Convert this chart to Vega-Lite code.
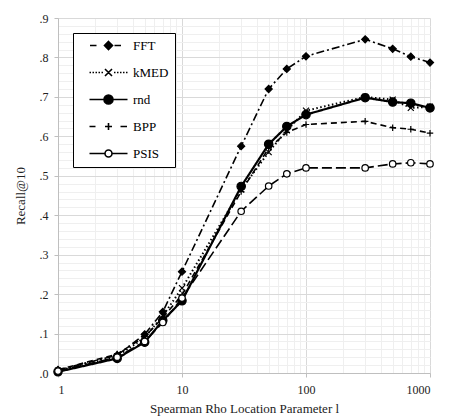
{
  "$schema": "https://vega.github.io/schema/vega-lite/v6.json",
  "autosize": {"type": "none"},
  "width": 372,
  "height": 355,
  "padding": {"left": 58, "top": 18, "right": 25, "bottom": 47},
  "background": "white",
  "config": {
    "view": {"stroke": null},
    "font": "Liberation Serif",
    "axis": {"labelFont": "Liberation Serif", "titleFont": "Liberation Serif", "labelColor": "#222", "titleColor": "#222", "labelFontSize": 12, "titleFontSize": 13, "titleFontWeight": "normal"},
    "legend": {"labelFont": "Liberation Serif"}
  },
  "data": {"values": [
    {"series": "FFT", "x": 1, "y": 0.008}, {"series": "FFT", "x": 3, "y": 0.045}, {"series": "FFT", "x": 5, "y": 0.098}, {"series": "FFT", "x": 7, "y": 0.155}, {"series": "FFT", "x": 10, "y": 0.257}, {"series": "FFT", "x": 30, "y": 0.575}, {"series": "FFT", "x": 50, "y": 0.72}, {"series": "FFT", "x": 70, "y": 0.771}, {"series": "FFT", "x": 100, "y": 0.803}, {"series": "FFT", "x": 300, "y": 0.846}, {"series": "FFT", "x": 500, "y": 0.822}, {"series": "FFT", "x": 700, "y": 0.802}, {"series": "FFT", "x": 1000, "y": 0.787},
    {"series": "kMED", "x": 1, "y": 0.006}, {"series": "kMED", "x": 3, "y": 0.042}, {"series": "kMED", "x": 5, "y": 0.09}, {"series": "kMED", "x": 7, "y": 0.145}, {"series": "kMED", "x": 10, "y": 0.215}, {"series": "kMED", "x": 30, "y": 0.465}, {"series": "kMED", "x": 50, "y": 0.56}, {"series": "kMED", "x": 70, "y": 0.615}, {"series": "kMED", "x": 100, "y": 0.665}, {"series": "kMED", "x": 300, "y": 0.70}, {"series": "kMED", "x": 500, "y": 0.693}, {"series": "kMED", "x": 700, "y": 0.672}, {"series": "kMED", "x": 1000, "y": 0.675},
    {"series": "rnd", "x": 1, "y": 0.003}, {"series": "rnd", "x": 3, "y": 0.037}, {"series": "rnd", "x": 5, "y": 0.078}, {"series": "rnd", "x": 7, "y": 0.133}, {"series": "rnd", "x": 10, "y": 0.183}, {"series": "rnd", "x": 30, "y": 0.473}, {"series": "rnd", "x": 50, "y": 0.58}, {"series": "rnd", "x": 70, "y": 0.625}, {"series": "rnd", "x": 100, "y": 0.655}, {"series": "rnd", "x": 300, "y": 0.698}, {"series": "rnd", "x": 500, "y": 0.687}, {"series": "rnd", "x": 700, "y": 0.684}, {"series": "rnd", "x": 1000, "y": 0.672},
    {"series": "BPP", "x": 1, "y": 0.008}, {"series": "BPP", "x": 3, "y": 0.048}, {"series": "BPP", "x": 5, "y": 0.092}, {"series": "BPP", "x": 7, "y": 0.14}, {"series": "BPP", "x": 10, "y": 0.198}, {"series": "BPP", "x": 30, "y": 0.46}, {"series": "BPP", "x": 50, "y": 0.57}, {"series": "BPP", "x": 70, "y": 0.61}, {"series": "BPP", "x": 100, "y": 0.63}, {"series": "BPP", "x": 300, "y": 0.638}, {"series": "BPP", "x": 500, "y": 0.622}, {"series": "BPP", "x": 700, "y": 0.618}, {"series": "BPP", "x": 1000, "y": 0.608},
    {"series": "PSIS", "x": 1, "y": 0.005}, {"series": "PSIS", "x": 3, "y": 0.04}, {"series": "PSIS", "x": 5, "y": 0.08}, {"series": "PSIS", "x": 7, "y": 0.128}, {"series": "PSIS", "x": 10, "y": 0.19}, {"series": "PSIS", "x": 30, "y": 0.41}, {"series": "PSIS", "x": 50, "y": 0.474}, {"series": "PSIS", "x": 70, "y": 0.505}, {"series": "PSIS", "x": 100, "y": 0.52}, {"series": "PSIS", "x": 300, "y": 0.52}, {"series": "PSIS", "x": 500, "y": 0.53}, {"series": "PSIS", "x": 700, "y": 0.533}, {"series": "PSIS", "x": 1000, "y": 0.53}
  ]},
  "resolve": {"axis": {"x": "independent", "y": "independent"}},
  "layer": [
    {
      "mark": {"type": "line", "color": "black"},
      "encoding": {
        "x": {"field": "x", "type": "quantitative", "scale": {"type": "log", "domain": [1, 1000]},
          "axis": {"orient": "bottom", "values": [2,3,4,5,6,7,8,9,20,30,40,50,60,70,80,90,200,300,400,500,600,700,800,900], "labels": false, "ticks": false, "domain": false, "grid": true, "gridColor": "#efefef", "gridWidth": 1, "title": null}},
        "y": {"field": "y", "type": "quantitative", "scale": {"domain": [0, 0.9]},
          "axis": {"orient": "left", "values": [0.02,0.04,0.06,0.08,0.12,0.14,0.16,0.18,0.22,0.24,0.26,0.28,0.32,0.34,0.36,0.38,0.42,0.44,0.46,0.48,0.52,0.54,0.56,0.58,0.62,0.64,0.66,0.68,0.72,0.74,0.76,0.78,0.82,0.84,0.86,0.88], "labels": false, "ticks": false, "domain": false, "grid": true, "gridColor": "#efefef", "gridWidth": 1, "title": null}},
        "detail": {"field": "series", "type": "nominal"},
        "strokeDash": {"condition": [
          {"test": "datum.series === 'FFT'", "value": [8, 3, 2, 3]},
          {"test": "datum.series === 'kMED'", "value": [1.5, 2.5]},
          {"test": "datum.series === 'BPP'", "value": [6, 4]},
          {"test": "datum.series === 'PSIS'", "value": [10, 4]}
        ], "value": [1, 0]},
        "strokeWidth": {"condition": [
          {"test": "datum.series === 'rnd'", "value": 2.2},
          {"test": "datum.series === 'kMED'", "value": 2}
        ], "value": 1.6}
      }
    },
    {
      "mark": {"type": "point", "opacity": 1, "stroke": "black", "strokeWidth": 1.2},
      "encoding": {
        "x": {"field": "x", "type": "quantitative",
          "axis": {"orient": "bottom", "values": [1, 10, 100, 1000], "format": "d", "grid": true, "gridColor": "#d9d9d9", "gridWidth": 1, "domainColor": "#bfbfbf", "tickColor": "#bfbfbf", "tickSize": 4, "labelPadding": 7, "title": "Spearman Rho Location Parameter l", "titlePadding": 7}},
        "y": {"field": "y", "type": "quantitative",
          "axis": {"orient": "left", "values": [0, 0.1, 0.2, 0.3, 0.4, 0.5, 0.6, 0.7, 0.8, 0.9], "labelExpr": "replace(format(datum.value, '.1f'), '0.', '.')", "grid": true, "gridColor": "#d9d9d9", "gridWidth": 1, "domainColor": "#bfbfbf", "tickColor": "#bfbfbf", "tickSize": 4, "labelPadding": 6, "title": "Recall@10", "titlePadding": 12}},
        "shape": {"condition": [
          {"test": "datum.series === 'FFT'", "value": "diamond"},
          {"test": "datum.series === 'kMED'", "value": "M-1,-1L1,1M-1,1L1,-1"},
          {"test": "datum.series === 'BPP'", "value": "M-1,0L1,0M0,-1L0,1"}
        ], "value": "circle"},
        "fill": {"condition": {"test": "datum.series === 'PSIS'", "value": "white"}, "value": "black"},
        "size": {"condition": [
          {"test": "datum.series === 'FFT'", "value": 50},
          {"test": "datum.series === 'kMED'", "value": 36},
          {"test": "datum.series === 'rnd'", "value": 70}
        ], "value": 42}
      }
    },
    {
      "transform": [{"filter": "false"}],
      "mark": {"type": "point", "opacity": 1, "color": "black", "stroke": "black"},
      "encoding": {
        "shape": {"field": "series", "type": "nominal",
          "scale": {"domain": ["FFT", "kMED", "rnd", "BPP", "PSIS"], "range": [
            "M0.3,0L1.6,0M5.2,0L6.5,0M4,-0.8L4.8,0L4,0.8L3.2,0Z",
            "M0.2,0L0.5,0M0.8,0L1.1,0M1.4,0L1.7,0M2,0L2.3,0M2.6,0L2.9,0M5.1,0L5.4,0M5.7,0L6,0M6.3,0L6.6,0M6.9,0L7.2,0M7.5,0L7.8,0M3.3,-0.7L4.7,0.7M3.3,0.7L4.7,-0.7",
            "M0.2,0L7.8,0M4.9,0A0.9,0.9 0 1,1 3.1,0A0.9,0.9 0 1,1 4.9,0Z",
            "M0.2,0L1.4,0M3.3,0L4.7,0M4,-0.7L4,0.7M6.4,0L7.7,0",
            "M0.2,0L3.3,0M4.7,0L7.8,0M4.7,0A0.7,0.7 0 1,1 3.3,0A0.7,0.7 0 1,1 4.7,0Z"
          ]},
          "legend": {
            "title": null, "orient": "none", "legendX": 15, "legendY": 15,
            "padding": 6, "strokeColor": "black", "fillColor": "white",
            "symbolSize": 100, "symbolOffset": 3, "labelOffset": 38, "rowPadding": 13, "clipHeight": 13,
            "labelFontSize": 13, "labelColor": "black"
          }},
        "fill": {"field": "series", "type": "nominal", "scale": {"domain": ["FFT", "kMED", "rnd", "BPP", "PSIS"], "range": ["black", "black", "black", "black", "white"]}},
        "strokeWidth": {"field": "series", "type": "nominal", "scale": {"domain": ["FFT", "kMED", "rnd", "BPP", "PSIS"], "range": [1.6, 1.6, 2.4, 1.6, 1.6]}}
      }
    }
  ]
}
